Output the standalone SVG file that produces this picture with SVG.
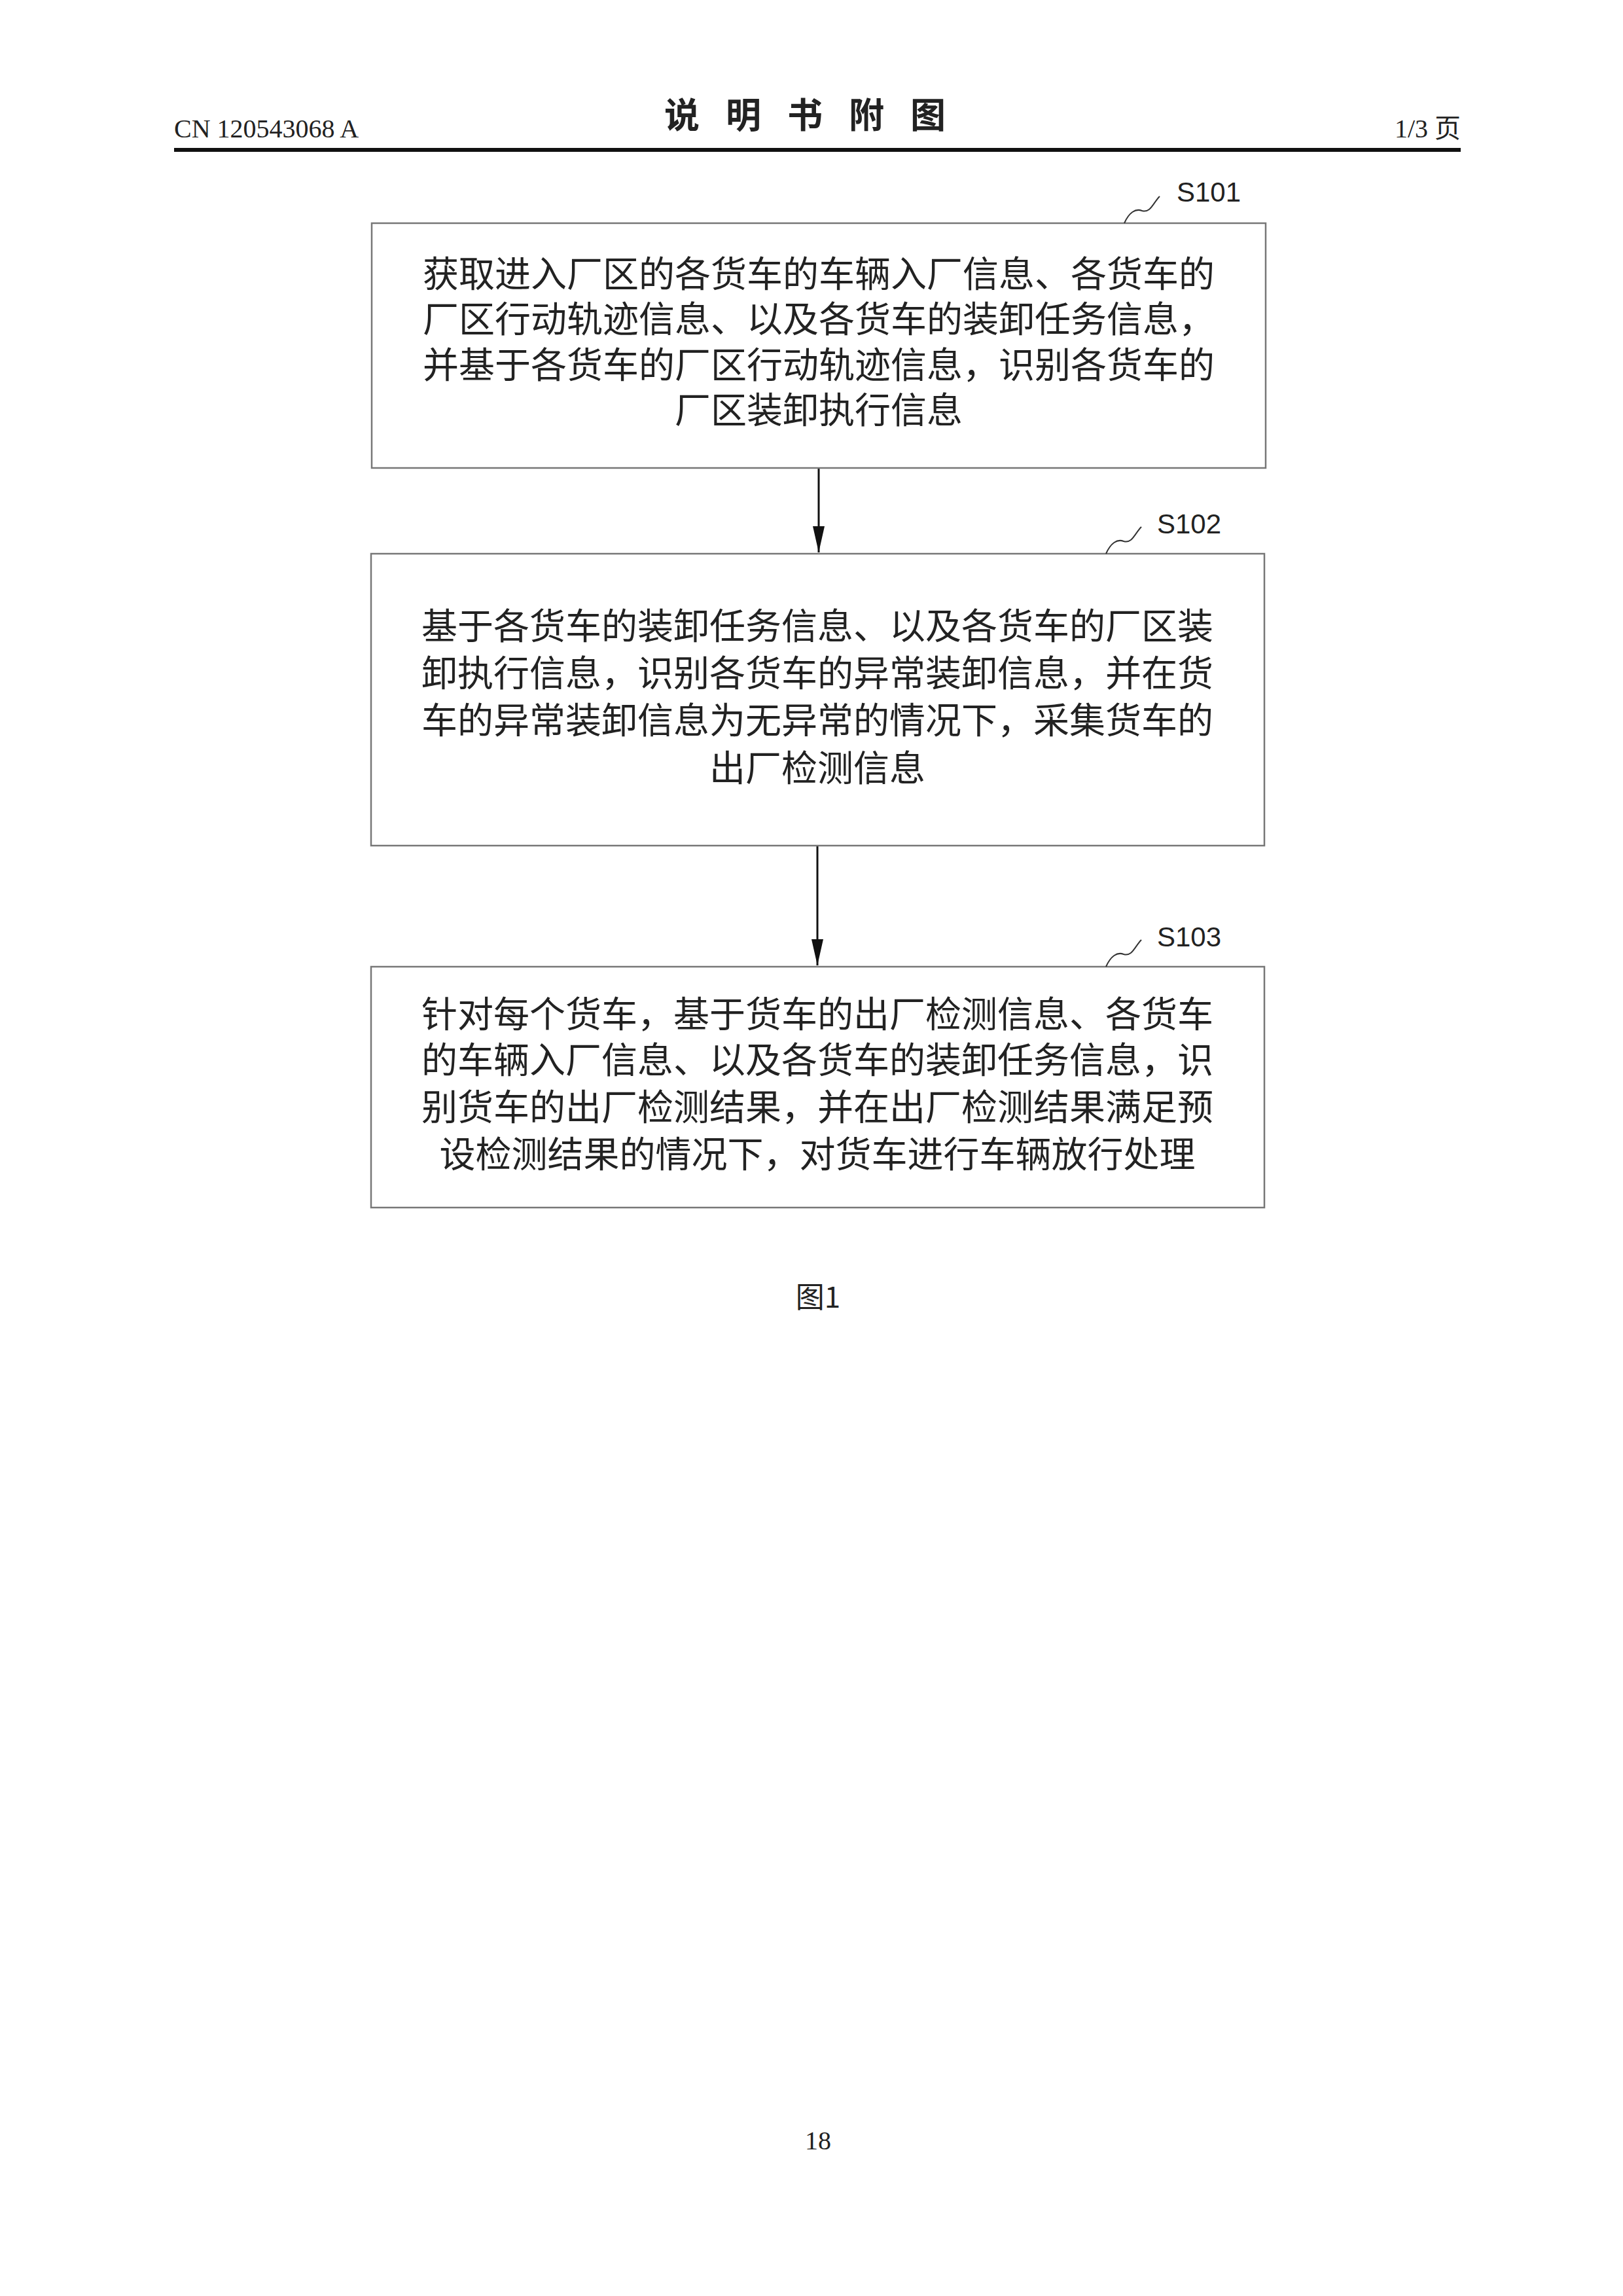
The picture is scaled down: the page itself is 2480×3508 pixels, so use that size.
<svg xmlns="http://www.w3.org/2000/svg" width="2480" height="3508" viewBox="0 0 2480 3508">
<defs>
<style>
.t{font-family:"Noto Sans CJK SC","Liberation Serif",serif;font-size:55px;fill:#222;text-anchor:middle}
.h{font-family:"Liberation Serif","Noto Sans CJK SC",serif;font-size:40px;fill:#222}
.lb{font-family:"Liberation Sans",sans-serif;font-size:42px;fill:#222}
.box{fill:#fff;stroke:#777;stroke-width:2.5}
.sq{fill:none;stroke:#333;stroke-width:2}
</style>
<marker id="ar" markerWidth="40" markerHeight="18" refX="40" refY="9" orient="auto" markerUnits="userSpaceOnUse" viewBox="0 0 40 18"><path d="M0,0 L40,9 L0,18 z" fill="#111"/></marker>
</defs>
<rect width="2480" height="3508" fill="#fff"/>
<text class="h" x="266" y="210">CN 120543068 A</text>
<text x="1250" y="196" font-family="'Noto Sans CJK SC',sans-serif" font-size="54" font-weight="bold" text-anchor="middle" fill="#222" letter-spacing="40">说明书附图</text>
<text class="h" x="2232" y="210" text-anchor="end">1/3 页</text>
<rect x="266" y="226" width="1966" height="6" fill="#111"/>
<g id="connectors">
<line x1="1251" y1="715" x2="1251" y2="844" stroke="#111" stroke-width="3" marker-end="url(#ar)"/>
<line x1="1249" y1="1292" x2="1249" y2="1475" stroke="#111" stroke-width="3" marker-end="url(#ar)"/>
</g>
<g id="s101">
<rect class="box" x="568" y="341" width="1366" height="374"/>
<path class="sq" d="M1718,341 C1725,325 1735,318 1745,322 C1758,326 1762,310 1772,300"/>
<text class="lb" x="1798" y="308">S101</text>
<text class="t" x="1251" y="438">获取进入厂区的各货车的车辆入厂信息、各货车的</text>
<text class="t" x="1251" y="507">厂区行动轨迹信息、以及各货车的装卸任务信息，</text>
<text class="t" x="1251" y="577">并基于各货车的厂区行动轨迹信息，识别各货车的</text>
<text class="t" x="1251" y="646">厂区装卸执行信息</text>
</g>
<g id="s102">
<rect class="box" x="567" y="846" width="1365" height="446"/>
<path class="sq" d="M1690,846 C1697,830 1707,823 1717,827 C1730,831 1734,815 1744,805"/>
<text class="lb" x="1768" y="815">S102</text>
<text class="t" x="1249" y="976">基于各货车的装卸任务信息、以及各货车的厂区装</text>
<text class="t" x="1249" y="1048">卸执行信息，识别各货车的异常装卸信息，并在货</text>
<text class="t" x="1249" y="1120">车的异常装卸信息为无异常的情况下，采集货车的</text>
<text class="t" x="1249" y="1193">出厂检测信息</text>
</g>
<g id="s103">
<rect class="box" x="567" y="1477" width="1365" height="368"/>
<path class="sq" d="M1690,1477 C1697,1461 1707,1454 1717,1458 C1730,1462 1734,1446 1744,1436"/>
<text class="lb" x="1768" y="1446">S103</text>
<text class="t" x="1249" y="1569">针对每个货车，基于货车的出厂检测信息、各货车</text>
<text class="t" x="1249" y="1639">的车辆入厂信息、以及各货车的装卸任务信息，识</text>
<text class="t" x="1249" y="1711">别货车的出厂检测结果，并在出厂检测结果满足预</text>
<text class="t" x="1249" y="1783">设检测结果的情况下，对货车进行车辆放行处理</text>
</g>
<text x="1250" y="1998" font-family="'Noto Sans CJK SC',sans-serif" font-size="44" text-anchor="middle" fill="#222">图1</text>
<text class="h" x="1250" y="3284" text-anchor="middle">18</text>
</svg>
